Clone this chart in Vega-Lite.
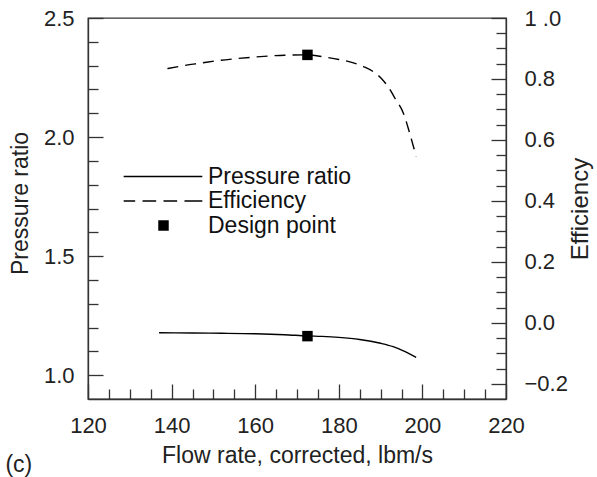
{
  "$schema": "https://vega.github.io/schema/vega-lite/v6.json",
  "width": 418,
  "height": 381,
  "autosize": "none",
  "padding": {"left": 88, "top": 18, "right": 91, "bottom": 78},
  "background": "white",
  "config": {
    "font": "Liberation Sans",
    "view": {"stroke": "#333", "strokeWidth": 1.3},
    "axis": {
      "grid": false,
      "domainColor": "#333",
      "domainWidth": 1.3,
      "tickColor": "#333",
      "tickWidth": 1.3,
      "labelFont": "Liberation Sans",
      "labelFontSize": 22,
      "labelColor": "#222",
      "titleFont": "Liberation Sans",
      "titleFontSize": 23,
      "titleFontWeight": "normal",
      "titleColor": "#222",
      "labelOverlap": false,
      "labelFlush": false
    }
  },
  "title": {
    "text": "(c)",
    "orient": "bottom",
    "anchor": "start",
    "frame": "bounds",
    "fontSize": 23,
    "fontWeight": "normal",
    "color": "#222",
    "font": "Liberation Sans",
    "dx": -4,
    "dy": -17
  },
  "datasets": {
    "pressure": [
      {"flow": 137, "pressure_ratio": 1.178},
      {"flow": 145, "pressure_ratio": 1.177},
      {"flow": 152, "pressure_ratio": 1.176},
      {"flow": 160, "pressure_ratio": 1.174},
      {"flow": 167, "pressure_ratio": 1.170},
      {"flow": 172.5, "pressure_ratio": 1.165},
      {"flow": 176, "pressure_ratio": 1.163},
      {"flow": 180, "pressure_ratio": 1.159},
      {"flow": 185, "pressure_ratio": 1.150},
      {"flow": 190, "pressure_ratio": 1.134},
      {"flow": 193, "pressure_ratio": 1.120},
      {"flow": 196, "pressure_ratio": 1.098},
      {"flow": 198.5, "pressure_ratio": 1.075}
    ],
    "efficiency": [
      {"flow": 139, "efficiency": 0.834},
      {"flow": 143, "efficiency": 0.844},
      {"flow": 147, "efficiency": 0.852},
      {"flow": 151, "efficiency": 0.860},
      {"flow": 155, "efficiency": 0.866},
      {"flow": 159, "efficiency": 0.871},
      {"flow": 163, "efficiency": 0.875},
      {"flow": 167, "efficiency": 0.878},
      {"flow": 172.5, "efficiency": 0.879},
      {"flow": 177, "efficiency": 0.871},
      {"flow": 180, "efficiency": 0.864},
      {"flow": 183.5, "efficiency": 0.853},
      {"flow": 186, "efficiency": 0.840},
      {"flow": 188, "efficiency": 0.826},
      {"flow": 190.3, "efficiency": 0.800},
      {"flow": 192, "efficiency": 0.770},
      {"flow": 193.5, "efficiency": 0.735},
      {"flow": 195.5, "efficiency": 0.686},
      {"flow": 197, "efficiency": 0.620},
      {"flow": 198.5, "efficiency": 0.546}
    ],
    "design": [
      {"flow": 172.5, "pressure_ratio": 1.164, "efficiency": 0.879, "series": "Design point"}
    ]
  },
  "layer": [
    {
      "encoding": {
        "x": {
          "field": "flow",
          "type": "quantitative",
          "scale": {"domain": [120, 220], "nice": false, "zero": false},
          "axis": {
            "title": "Flow rate, corrected, lbm/s",
            "values": [120,125,130,135,140,145,150,155,160,165,170,175,180,185,190,195,200,205,210,215,220],
            "tickSize": {"condition": {"test": "datum.value % 20 === 0", "value": -15}, "value": -10},
            "labelExpr": "datum.value % 20 === 0 ? datum.label : ''",
            "labelPadding": 31,
            "titlePadding": 3
          }
        },
        "y": {
          "field": "pressure_ratio",
          "type": "quantitative",
          "scale": {"domain": [0.9, 2.5], "nice": false, "zero": false},
          "axis": {
            "orient": "left",
            "title": "Pressure ratio",
            "values": [1.0,1.1,1.2,1.3,1.4,1.5,1.6,1.7,1.8,1.9,2.0,2.1,2.2,2.3,2.4,2.5],
            "tickSize": {"condition": {"test": "abs(datum.value*2 - round(datum.value*2)) < 0.001", "value": -15}, "value": -10},
            "labelExpr": "abs(datum.value*2 - round(datum.value*2)) < 0.001 ? format(datum.value, '.1f') : ''",
            "labelPadding": 29,
            "titlePadding": 11,
            "titleY": 185
          }
        }
      },
      "layer": [
        {
          "data": {"name": "pressure"},
          "mark": {"type": "line", "color": "black", "strokeWidth": 1.4, "interpolate": "monotone"}
        },
        {
          "data": {"name": "design"},
          "mark": {"type": "point", "filled": true, "color": "black", "size": 110, "opacity": 1},
          "encoding": {
            "shape": {
              "field": "series",
              "type": "nominal",
              "scale": {
                "domain": ["Pressure ratio", "Efficiency", "Design point"],
                "range": [
                  "M-7.6,-0.14H7.4V0.14H-7.6Z",
                  "M-7.6,-0.14H-5.4V0.14H-7.6ZM-4,-0.14H-1.4V0.14H-4ZM0,-0.14H2.6V0.14H0ZM4,-0.14H7.4V0.14H4Z",
                  "M-1,-1H1V1H-1Z"
                ]
              },
              "legend": {
                "title": null,
                "orient": "none",
                "legendX": 64,
                "legendY": 147,
                "labelFont": "Liberation Sans",
                "labelFontSize": 23,
                "labelColor": "#111",
                "symbolSize": 110,
                "symbolStrokeWidth": 0,
                "symbolFillColor": "black",
                "symbolOpacity": 1,
                "labelOffset": 33,
                "rowPadding": 0.5,
                "padding": 0,
                "encode": {
                  "symbols": {
                    "fill": {"value": "black"},
                    "opacity": {"value": 1}
                  }
                }
              }
            }
          }
        }
      ]
    },
    {
      "encoding": {
        "x": {
          "field": "flow",
          "type": "quantitative",
          "scale": {"domain": [120, 220], "nice": false, "zero": false},
          "axis": {
            "title": "Flow rate, corrected, lbm/s",
            "values": [120,125,130,135,140,145,150,155,160,165,170,175,180,185,190,195,200,205,210,215,220],
            "tickSize": {"condition": {"test": "datum.value % 20 === 0", "value": -15}, "value": -10},
            "labelExpr": "datum.value % 20 === 0 ? datum.label : ''",
            "labelPadding": 31,
            "titlePadding": 3
          }
        },
        "y": {
          "field": "efficiency",
          "type": "quantitative",
          "scale": {"domain": [-0.25, 1.0], "nice": false, "zero": false},
          "axis": {
            "orient": "right",
            "title": "Efficiency",
            "titleAngle": -90,
            "titleFontSize": 24,
            "values": [-0.2,-0.15,-0.1,-0.05,0,0.05,0.1,0.15,0.2,0.25,0.3,0.35,0.4,0.45,0.5,0.55,0.6,0.65,0.7,0.75,0.8,0.85,0.9,0.95,1.0],
            "tickSize": {"condition": {"test": "abs(datum.value*5 - round(datum.value*5)) < 0.001", "value": -15}, "value": -10},
            "labelExpr": "abs(datum.value*5 - round(datum.value*5)) < 0.001 ? (datum.value == 1 ? '1 .0' : format(datum.value, '.1f')) : ''",
            "labelPadding": 33,
            "titlePadding": 25
          }
        }
      },
      "layer": [
        {
          "data": {"name": "efficiency"},
          "mark": {"type": "line", "color": "black", "strokeWidth": 1.4, "strokeDash": [11, 7], "interpolate": "monotone"}
        },
        {
          "data": {"name": "design"},
          "mark": {"type": "point", "filled": true, "color": "black", "size": 110, "opacity": 1, "shape": "M-1,-1H1V1H-1Z"}
        }
      ]
    }
  ],
  "resolve": {"scale": {"y": "independent"}}
}
